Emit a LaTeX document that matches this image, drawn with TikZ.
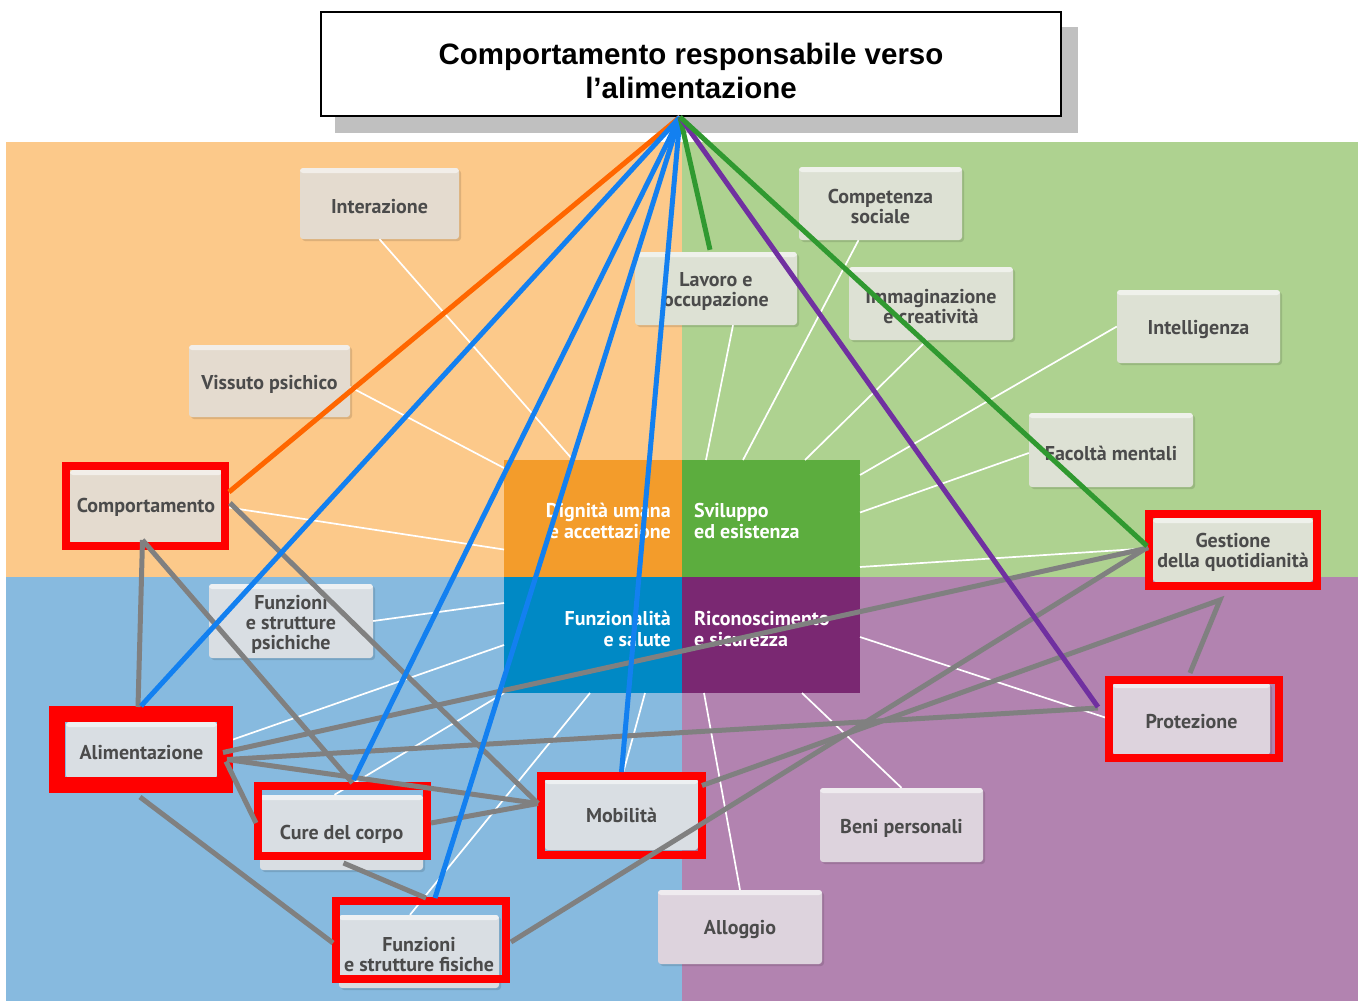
\documentclass[tikz,border=0pt]{standalone}
\usepackage{fontspec}
\setmainfont{Liberation Sans}
\newfontfamily\tilefont{PT Sans}
\usetikzlibrary{calc,shadows}
\definecolor{bgO}{HTML}{FCC98A}
\definecolor{bgG}{HTML}{AED290}
\definecolor{bgB}{HTML}{87BADF}
\definecolor{bgP}{HTML}{B283B0}
\definecolor{sqO}{HTML}{F39C2B}
\definecolor{sqG}{HTML}{5CAD3E}
\definecolor{sqB}{HTML}{0089C5}
\definecolor{sqP}{HTML}{7A2872}
\definecolor{tO}{HTML}{E4DBCF}
\definecolor{tG}{HTML}{DDE1D4}
\definecolor{tB}{HTML}{D9DEE3}
\definecolor{tP}{HTML}{DDD3DD}
\definecolor{tiletext}{HTML}{4B4B4B}
\definecolor{redc}{HTML}{FF0000}
\definecolor{shadowc}{HTML}{C0C0C0}
\definecolor{orangeL}{HTML}{FF6600}
\definecolor{blueL}{HTML}{1380F0}
\definecolor{greenL}{HTML}{309930}
\definecolor{purpleL}{HTML}{7030A0}
\definecolor{grayLc}{HTML}{808080}
\begin{document}
\begin{tikzpicture}[x=1pt,y=-1pt,
  tile/.style={fill=#1, rounded corners=3pt, inner sep=0pt,
    general shadow={fill=black, opacity=0.12, shadow xshift=2pt, shadow yshift=-2pt},
    path picture={\fill[white,opacity=0.55] (path picture bounding box.north west) rectangle ([yshift=-5pt]path picture bounding box.north east);}},
  tl/.style={align=center, inner sep=0pt, yshift=-3pt, text=tiletext,
    font=\tilefont\bfseries\fontsize{20}{20}\selectfont},
  sq/.style={fill=#1, inner sep=0pt, outer sep=0pt},
  sqtext/.style={text=white, inner sep=0pt, font=\tilefont\bfseries\fontsize{20}{20.5}\selectfont},
  redframe/.style={draw=redc, inner sep=0pt},
  spoke/.style={draw=white, line width=1.7pt},
  conn/.style={line width=5pt},
  grayL/.style={conn, draw=grayLc},
  titletext/.style={align=center, inner sep=0pt, yshift=-7pt, font=\bfseries\fontsize{29.5}{34}\selectfont}
]
\useasboundingbox (0,0) rectangle (1358,1001);
\fill[white] (0,0) rectangle (1358,1001);
% quadrants
\fill[bgO] (6,142) rectangle (682,577);
\fill[bgG] (682,142) rectangle (1358,577);
\fill[bgB] (6,577) rectangle (682,1001);
\fill[bgP] (682,577) rectangle (1358,1001);
% central squares
\node[sq=sqO, minimum width=178pt, minimum height=117pt] (dign) at (593,518.5) {};
\node[sq=sqG, minimum width=178pt, minimum height=117pt] (svil) at (771,518.5) {};
\node[sq=sqB, minimum width=178pt, minimum height=116pt] (funz) at (593,635) {};
\node[sq=sqP, minimum width=178pt, minimum height=116pt] (rico) at (771,635) {};
\node[sqtext, anchor=east, align=right] (dignT) at (671,521) {Dignità umana\\e accettazione};
\node[sqtext, anchor=west, align=left] (svilT) at (694,521) {Sviluppo\\ed esistenza};
\node[sqtext, anchor=east, align=right] (funzT) at (671,629) {Funzionalità\\e salute};
\node[sqtext, anchor=west, align=left] (ricoT) at (694,629) {Riconoscimento\\e sicurezza};
% tiles
\node[tile=tO, minimum width=159pt, minimum height=71pt, label={[tl]center:Interazione}] (interB) at (379.5,203.5) {};
\node[tile=tO, minimum width=161pt, minimum height=72pt, label={[tl]center:Vissuto psichico}] (visB) at (269.5,381) {};
\node[tile=tO, minimum width=152pt, minimum height=73pt, label={[tl,yshift=2pt]center:Comportamento}] (compB) at (146,506.5) {};
\node[tile=tG, minimum width=162pt, minimum height=73pt, label={[tl]center:Lavoro e\\occupazione}] (lavB) at (716,288.5) {};
\node[tile=tG, minimum width=163pt, minimum height=73pt, label={[tl]center:Competenza\\sociale}] (csocB) at (880.5,203.5) {};
\node[tile=tG, minimum width=164pt, minimum height=73pt, label={[tl]center:Immaginazione\\e creatività}] (immB) at (931,303.5) {};
\node[tile=tG, minimum width=163pt, minimum height=73pt, label={[tl]center:Intelligenza}] (intB) at (1198.5,326.5) {};
\node[tile=tG, minimum width=164pt, minimum height=74pt, label={[tl]center:Facoltà mentali}] (facB) at (1111,450) {};
\node[tile=tG, minimum width=160pt, minimum height=64pt, label={[tl,yshift=1pt]center:Gestione\\della quotidianità}] (gestB) at (1233,550) {};
\node[tile=tB, minimum width=164pt, minimum height=74pt, label={[tl]center:Funzioni\\e strutture\\psichiche}] (psiB) at (291,621) {};
\node[tile=tB, minimum width=151pt, minimum height=56pt, label={[tl]center:Alimentazione}] (alimB) at (141.5,750) {};
\node[tile=tB, minimum width=163pt, minimum height=75pt, label={[tl,yshift=1pt]center:Cure del corpo}] (cureB) at (341.5,832.5) {};
\node[tile=tB, minimum width=160pt, minimum height=73pt, label={[tl]center:Funzioni\\e strutture fisiche}] (fisB) at (419,951.5) {};
\node[tile=tB, minimum width=153pt, minimum height=71pt, label={[tl,yshift=2pt]center:Mobilità}] (mobB) at (621.5,814.5) {};
\node[tile=tP, minimum width=157pt, minimum height=72pt, label={[tl]center:Protezione}] (protB) at (1191.5,719) {};
\node[tile=tP, minimum width=163pt, minimum height=74pt, label={[tl]center:Beni personali}] (beniB) at (901.5,825) {};
\node[tile=tP, minimum width=164pt, minimum height=74pt, label={[tl]center:Alloggio}] (allB) at (740,927) {};
% white spokes
\draw[spoke] (interB.south) -- ($(dign.north)+(-20,0)$);
\draw[spoke] ($(visB.east)+(0,6)$) -- ($(dign.north west)+(0,8)$);
\draw[spoke] (compB.east) -- ($(dign.west)+(0,31)$);
\draw[spoke] ($(lavB.south)+(17,0)$) -- ($(svil.north west)+(24,0)$);
\draw[spoke] ($(csocB.south)+(-22,0)$) -- ($(svil.north west)+(61,0)$);
\draw[spoke] ($(immB.south)+(-4,0)$) -- ($(svil.north west)+(123,0)$);
\draw[spoke] (intB.west) -- ($(svil.north east)+(0,15)$);
\draw[spoke] ($(facB.west)+(0,3)$) -- ($(svil.east)+(0,-6)$);
\draw[spoke] ($(gestB.west)+(0,-2)$) -- ($(svil.south east)+(0,-10)$);
\draw[spoke] (psiB.east) -- ($(funz.north west)+(0,26)$);
\draw[spoke] ($(alimB.east)+(0,-5)$) -- ($(funz.west)+(0,10)$);
\draw[spoke] ($(cureB.north)+(-7,0)$) -- (funz.south west);
\draw[spoke] ($(fisB.north)+(-9,0)$) -- ($(funz.south)+(-3,0)$);
\draw[spoke] (mobB.north) -- ($(funz.south)+(52,0)$);
\draw[spoke] ($(rico.east)+(0,2)$) -- ($(protB.west)+(0,1)$);
\draw[spoke] ($(rico.south)+(31,0)$) -- (beniB.north);
\draw[spoke] ($(rico.south west)+(22,0)$) -- (allB.north);
% red frames
\node[redframe, line width=8pt, minimum width=159pt, minimum height=80pt] (comp) at (145.5,506) {};
\node[redframe, line width=16pt, minimum width=168pt, minimum height=71pt] (alim) at (141,749.5) {};
\node[redframe, line width=8pt, minimum width=169pt, minimum height=70pt] (cure) at (342.5,821) {};
\node[redframe, line width=8pt, minimum width=170pt, minimum height=78pt] (fis) at (421,940) {};
\node[redframe, line width=8pt, minimum width=161pt, minimum height=79pt] (mob) at (621.5,815.5) {};
\node[redframe, line width=8pt, minimum width=168pt, minimum height=72pt] (gest) at (1233,550) {};
\node[redframe, line width=8pt, minimum width=170pt, minimum height=78pt] (prot) at (1194,719) {};
% title
\fill[shadowc] (335,27) rectangle (1078,133);
\node[draw=black, line width=2pt, fill=white, minimum width=740pt, minimum height=104pt, inner sep=0pt,
  label={[titletext]center:Comportamento responsabile verso\\l’alimentazione}] (title) at (691,64) {};
\coordinate (hub) at ($(title.south)+(-11,0)$);
% gray connectors
\draw[grayL] ($(comp.south)+(-3,-10)$) -- ($(alim.north)+(-3,1)$);
\draw[grayL] ($(comp.south)+(-3,-10)$) -- ($(cure.north)+(10,1)$);
\draw[grayL] ($(comp.east)+(1,-3)$) -- ($(mob.west)+(1,-12)$);
\draw[grayL] ($(alim.east)+(-10,3)$) -- ($(gest.west)+(3,-2)$);
\draw[grayL] ($(alim.east)+(-6,10)$) -- ($(prot.west)+(-7,-11)$);
\draw[grayL] ($(alim.east)+(-6,10)$) -- ($(mob.west)+(1,-12)$);
\draw[grayL] ($(alim.east)+(-7,12)$) -- ($(cure.west)+(2,2)$);
\draw[grayL] ($(alim.south)+(-1,4)$) -- ($(fis.west)+(1,3)$);
\draw[grayL] ($(cure.east)+(0,2)$) -- ($(mob.west)+(1,-12)$);
\draw[grayL] ($(cure.south)+(1,3)$) -- ($(fis.north)+(5,1)$);
\draw[grayL] ($(fis.east)+(1,2)$) -- ($(gest.west)+(3,-3)$);
\coordinate (gbend) at ($(gest.south)+(-13,10)$);
\draw[grayL] ($(mob.east)+(-4,-30)$) -- (gbend) -- ($(prot.north)+(-4,-3)$);
% colored connectors from the title
\draw[conn, draw=orangeL] (hub) -- ($(comp.east)+(0,-14)$);
\draw[conn, draw=blueL] (hub) -- (alim.north);
\draw[conn, draw=blueL] (hub) -- ($(cure.north)+(11,-2)$);
\draw[conn, draw=blueL] (hub) -- ($(fis.north)+(14,1)$);
\draw[conn, draw=blueL] (hub) -- (mob.north);
\draw[conn, draw=greenL] (hub) -- ($(lavB.north)+(-6,-2)$);
\draw[conn, draw=purpleL] (hub) -- ($(prot.west)+(-7,-12)$);
\draw[conn, draw=greenL] (hub) -- ($(gest.west)+(2,-4)$);
\end{tikzpicture}
\end{document}
